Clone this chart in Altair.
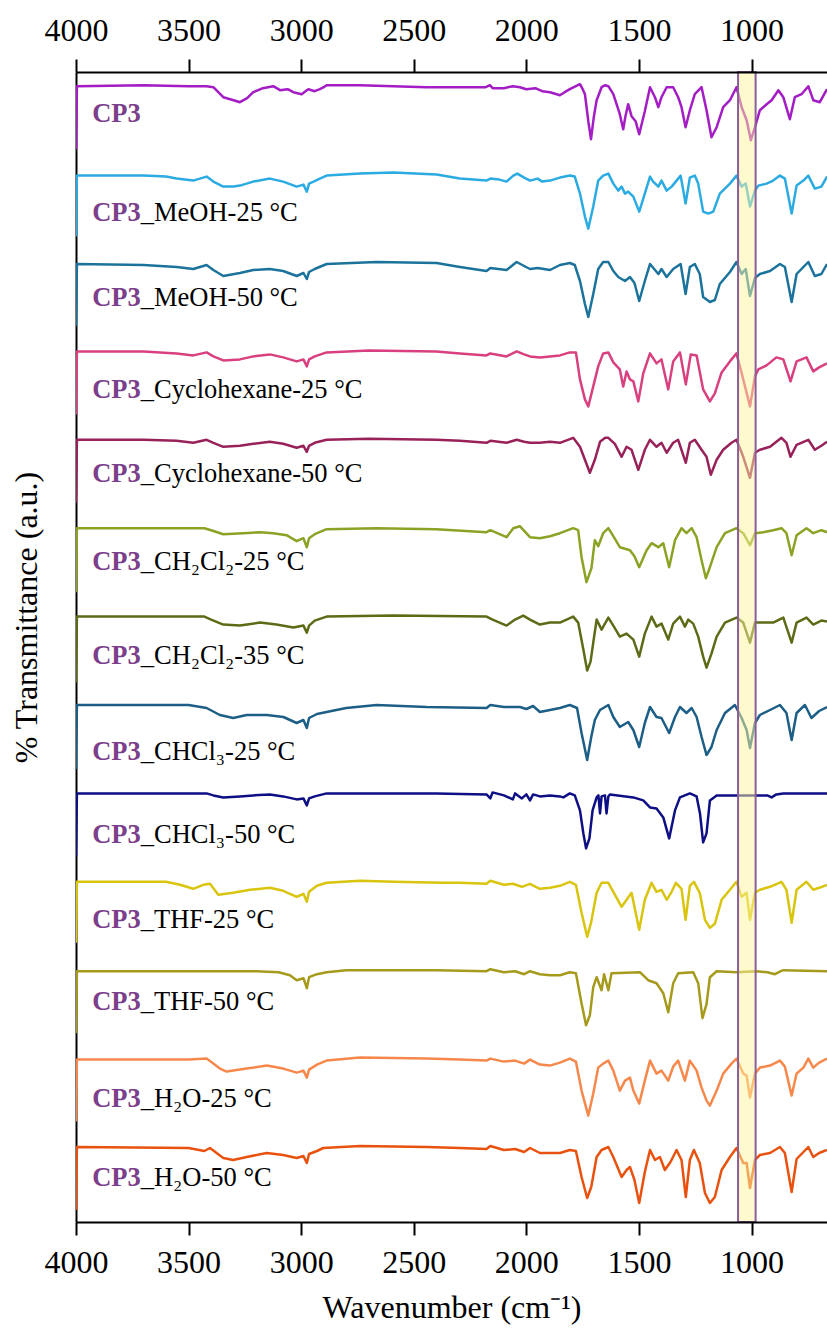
import altair as alt
import pandas as pd

# ---------------- data (wavenumber, relative transmittance) ----------------
NAMES = ["CP3", "MeOH-25", "MeOH-50", "Cyclohexane-25", "Cyclohexane-50",
         "CH2Cl2-25", "CH2Cl2-35", "CHCl3-25", "CHCl3-50", "THF-25", "THF-50",
         "H2O-25", "H2O-50"]
SUFFIX = ["", "_MeOH-25 °C", "_MeOH-50 °C", "_Cyclohexane-25 °C", "_Cyclohexane-50 °C",
          "_CH₂Cl₂-25 °C", "_CH₂Cl₂-35 °C", "_CHCl₃-25 °C", "_CHCl₃-50 °C",
          "_THF-25 °C", "_THF-50 °C", "_H₂O-25 °C", "_H₂O-50 °C"]
COLORS = ["#A31CC4", "#2BABE2", "#1B739B", "#D9407F", "#99215A", "#8BA325", "#5B6B16",
          "#1D5E86", "#0E0E85", "#D9C40E", "#A69A1C", "#F7884C", "#E9520E"]
LABEL_OFFSET = [36, 46, 43, 47, 42, 42, 47, 55, 50, 46, 40, 48, 39]
SPACING = 88.4
TICKS = [4000, 3500, 3000, 2500, 2000, 1500, 1000]
BAND = [1060, 982]

cp3 = [(4000,-63),(3996,0),(3700,1),(3500,0),(3420,0),(3390,-1),(3346,-11),(3300,-14),(3272,-16),(3240,-12),(3213,-6),(3170,-2),(3124,0),(3094,-4),(3060,-3),(3035,-6),(2998,-8),(2975,-4),(2968,-3),(2940,-5),(2917,-3),(2900,-1),(2887,1),(2739,1),(2591,0),(2443,-1),(2295,-1),(2180,-1),(2162,1),(2150,-2),(2100,-2),(2060,0),(2029,-1),(2000,-3),(1960,-2),(1930,-5),(1895,-6),(1851,-9),(1830,-6),(1807,-3),(1780,0),(1762,2),(1750,-3),(1740,-8),(1725,-35),(1713,-53),(1700,-30),(1688,-14),(1666,-1),(1650,1),(1636,0),(1614,-8),(1585,-28),(1570,-43),(1560,-30),(1548,-18),(1533,-30),(1515,-35),(1499,-48),(1474,-25),(1451,-1),(1429,-11),(1414,-21),(1400,-11),(1377,-1),(1348,-1),(1326,-11),(1311,-21),(1293,-41),(1274,-24),(1252,-8),(1222,-1),(1200,-24),(1178,-51),(1155,-41),(1126,-21),(1096,-14),(1067,-1),(1044,-21),(1022,-34),(1003,-54),(985,-41),(963,-24),(933,-18),(911,-14),(881,-4),(859,-11),(830,-33),(808,-11),(778,-8),(748,0),(726,-14),(697,-16),(665,-3)]
meoh25 = [(4000,-62),(3996,-1),(3700,-1),(3600,-2),(3553,-4),(3479,-6),(3420,-2),(3390,-7),(3346,-12),(3300,-12),(3272,-11),(3213,-7),(3139,-4),(3080,-7),(3020,-12),(2990,-10),(2975,-17),(2965,-9),(2945,-7),(2917,-4),(2887,-1),(2739,1),(2591,2),(2399,0),(2295,-4),(2177,-6),(2160,-4),(2120,-5),(2088,-7),(2058,-1),(2040,1),(2010,-3),(1984,-6),(1950,-4),(1930,-7),(1895,-6),(1851,-3),(1807,-1),(1785,-2),(1762,-19),(1740,-42),(1725,-54),(1703,-32),(1681,-6),(1659,-1),(1636,1),(1614,-9),(1592,-16),(1577,-12),(1562,-19),(1548,-17),(1525,-22),(1499,-37),(1474,-19),(1451,-2),(1437,-7),(1414,-12),(1400,-6),(1377,-16),(1355,-12),(1333,-6),(1315,-1),(1293,-29),(1274,-3),(1252,-1),(1237,-9),(1215,-37),(1192,-39),(1170,-37),(1141,-19),(1096,-9),(1067,-1),(1044,-12),(1026,-9),(1007,-32),(985,-16),(970,-11),(933,-9),(904,-6),(874,-1),(852,-4),(822,-39),(800,-11),(770,-6),(748,-1),(719,-14),(690,-12),(665,-2)]
meoh50 = [(4000,-63),(3996,-1),(3700,-2),(3553,-4),(3479,-6),(3420,-2),(3390,-7),(3346,-13),(3272,-10),(3213,-7),(3139,-6),(3080,-8),(3020,-13),(2990,-10),(2975,-16),(2965,-9),(2940,-6),(2887,-1),(2665,1),(2399,0),(2295,-4),(2177,-8),(2160,-5),(2088,-7),(2043,1),(2010,-3),(1984,-6),(1950,-5),(1895,-7),(1851,-2),(1807,0),(1785,-2),(1762,-18),(1740,-41),(1725,-54),(1703,-31),(1681,-6),(1659,1),(1636,1),(1614,-8),(1592,-14),(1562,-18),(1540,-14),(1520,-20),(1499,-38),(1474,-18),(1451,-1),(1414,-11),(1400,-6),(1377,-14),(1348,-6),(1315,-1),(1293,-31),(1274,-4),(1252,-1),(1230,-11),(1215,-34),(1185,-39),(1163,-37),(1141,-21),(1096,-9),(1067,1),(1044,-11),(1026,-6),(1007,-33),(985,-15),(963,-11),(918,-8),(874,-1),(852,-4),(822,-39),(800,-11),(748,1),(719,-13),(690,-11),(665,-1)]
cyclo25 = [(4000,-63),(3996,0),(3700,0),(3553,-2),(3479,-4),(3420,-1),(3390,-5),(3346,-9),(3272,-8),(3213,-5),(3139,-3),(3080,-6),(3020,-10),(2990,-8),(2975,-15),(2965,-8),(2940,-5),(2887,-1),(2700,1),(2400,0),(2295,-2),(2177,-4),(2160,-2),(2088,-5),(2043,0),(2010,-3),(1984,-5),(1940,-6),(1895,-5),(1851,-4),(1807,-1),(1780,-1),(1762,-28),(1740,-48),(1725,-55),(1703,-35),(1681,-15),(1659,-2),(1636,-1),(1614,-11),(1585,-18),(1570,-35),(1555,-20),(1540,-28),(1525,-30),(1503,-50),(1481,-22),(1451,-2),(1422,-12),(1400,-8),(1370,-38),(1348,-10),(1318,-1),(1292,-33),(1270,-3),(1244,-4),(1215,-38),(1185,-50),(1163,-42),(1133,-21),(1096,-10),(1067,-2),(1037,-28),(1007,-55),(985,-25),(970,-18),(933,-14),(890,-6),(859,-8),(827,-30),(800,-10),(756,-6),(726,-20),(700,-16),(665,-12)]
cyclo50 = [(4000,-63),(3996,0),(3700,0),(3553,-1),(3479,-3),(3420,0),(3390,-3),(3346,-7),(3272,-6),(3213,-4),(3139,-2),(3080,-4),(3020,-8),(2990,-6),(2975,-12),(2965,-6),(2940,-3),(2887,0),(2700,1),(2400,0),(2295,-1),(2177,-3),(2160,-1),(2088,-3),(2043,0),(2010,-2),(1984,-3),(1940,-3),(1895,-2),(1851,-3),(1792,2),(1762,-7),(1740,-20),(1718,-33),(1696,-20),(1673,-2),(1650,2),(1636,2),(1607,-4),(1577,-17),(1555,-7),(1533,-10),(1503,-30),(1474,-10),(1451,0),(1422,-7),(1400,-3),(1377,-13),(1348,-3),(1326,0),(1292,-23),(1274,-3),(1252,0),(1222,-10),(1200,-17),(1181,-35),(1155,-20),(1126,-10),(1089,-3),(1067,0),(1037,-17),(1007,-38),(985,-13),(963,-10),(918,-7),(867,2),(845,-3),(827,-17),(800,-5),(748,0),(719,-10),(690,-6),(665,-2)]
dcm25 = [(4000,-64),(3996,0),(3500,0),(3430,0),(3400,-2),(3346,-6),(3257,-5),(3183,-4),(3124,-5),(3065,-7),(3020,-13),(2990,-10),(2975,-19),(2965,-10),(2940,-6),(2887,-1),(2665,0),(2400,-1),(2177,-4),(2160,-2),(2088,-9),(2058,0),(2029,2),(1984,-9),(1940,-10),(1895,-8),(1851,-5),(1792,0),(1770,-2),(1755,-29),(1733,-54),(1711,-40),(1696,-12),(1681,-18),(1659,-5),(1636,0),(1614,-8),(1585,-19),(1540,-22),(1520,-28),(1499,-39),(1466,-22),(1444,-15),(1414,-19),(1392,-15),(1366,-39),(1340,-12),(1311,0),(1289,-5),(1266,0),(1244,-9),(1222,-32),(1203,-50),(1185,-39),(1155,-19),(1118,-5),(1067,0),(1037,-5),(1007,-17),(985,-5),(948,-4),(904,-2),(867,0),(845,-5),(822,-27),(800,-7),(756,0),(726,-5),(690,-2),(665,-4)]
dcm35 = [(4000,-66),(3996,0),(3500,0),(3430,0),(3400,-3),(3346,-8),(3272,-9),(3183,-6),(3110,-8),(3035,-11),(2990,-9),(2975,-16),(2965,-9),(2940,-4),(2887,0),(2591,1),(2177,0),(2150,-3),(2088,-9),(2050,-3),(2014,1),(1984,-3),(1940,-8),(1895,-6),(1851,-6),(1792,0),(1770,-6),(1747,-33),(1730,-54),(1715,-45),(1703,-26),(1688,-3),(1666,-13),(1636,-1),(1614,-9),(1585,-20),(1555,-17),(1525,-23),(1499,-40),(1474,-17),(1444,0),(1422,-10),(1400,-7),(1370,-23),(1348,-7),(1318,0),(1296,-10),(1281,-3),(1259,-7),(1237,-20),(1215,-40),(1200,-51),(1178,-37),(1155,-20),(1118,-6),(1067,-1),(1037,-6),(1007,-26),(985,-6),(948,-6),(904,-6),(859,-1),(822,-26),(800,-6),(756,-1),(726,-8),(690,-4),(665,-5)]
chcl25 = [(4000,-64),(3996,0),(3500,0),(3420,-3),(3361,-10),(3302,-13),(3242,-10),(3153,-10),(3079,-12),(3020,-18),(2990,-15),(2975,-23),(2965,-13),(2930,-9),(2887,-7),(2800,-3),(2665,0),(2443,-2),(2177,-3),(2160,0),(2100,-2),(2029,-2),(2000,-4),(1970,-1),(1940,-7),(1895,-5),(1851,-3),(1807,0),(1775,-3),(1755,-28),(1730,-55),(1712,-32),(1696,-15),(1673,-5),(1636,0),(1614,-12),(1585,-22),(1548,-17),(1525,-25),(1499,-42),(1474,-18),(1451,-2),(1422,-12),(1400,-13),(1366,-28),(1340,-12),(1318,-2),(1289,-8),(1266,-3),(1244,-12),(1222,-32),(1200,-50),(1178,-42),(1155,-25),(1118,-8),(1074,0),(1044,-13),(1022,-25),(1007,-43),(985,-18),(963,-10),(918,-5),(874,0),(845,-8),(822,-35),(800,-8),(763,0),(734,-13),(700,-6),(665,-2)]
chcl50 = [(4000,-63),(3996,0),(3500,0),(3420,0),(3390,-2),(3346,-4),(3272,-3),(3213,-2),(3139,-1),(3080,-3),(3020,-6),(2990,-5),(2975,-12),(2965,-5),(2940,-3),(2887,0),(2665,0),(2400,0),(2177,-1),(2160,-5),(2150,1),(2100,-2),(2060,-6),(2050,0),(2020,-5),(2000,-1),(1984,-7),(1970,-1),(1940,-3),(1895,-2),(1851,-3),(1836,-4),(1807,0),(1785,-2),(1762,-17),(1747,-40),(1735,-55),(1720,-45),(1706,-17),(1688,-4),(1680,-2),(1673,-20),(1666,-3),(1651,-2),(1644,-20),(1636,-3),(1629,-1),(1525,-4),(1481,-7),(1451,-14),(1422,-15),(1392,-24),(1366,-45),(1340,-17),(1318,-4),(1274,0),(1244,-3),(1229,-20),(1215,-49),(1200,-40),(1185,-7),(1155,-2),(1067,-2),(978,-2),(930,-2),(911,-4),(890,-1),(859,0),(665,0)]
thf25 = [(4000,-61),(3996,0),(3600,0),(3538,-3),(3479,-7),(3435,-3),(3405,-2),(3368,-13),(3302,-11),(3227,-8),(3139,-6),(3080,-9),(3020,-15),(2990,-12),(2975,-20),(2965,-10),(2930,-4),(2887,-1),(2739,1),(2591,0),(2369,-1),(2295,-1),(2177,-2),(2160,1),(2100,-3),(2060,-2),(2020,-5),(1984,-2),(1940,-7),(1895,-6),(1851,-4),(1807,0),(1780,-3),(1755,-31),(1730,-55),(1712,-40),(1688,-11),(1666,-1),(1636,-1),(1614,-10),(1577,-25),(1555,-18),(1533,-11),(1499,-48),(1474,-18),(1444,-1),(1422,-10),(1400,-8),(1377,-18),(1355,-10),(1336,-1),(1311,-7),(1293,-38),(1274,-4),(1256,0),(1230,-11),(1207,-38),(1185,-46),(1163,-42),(1133,-18),(1096,-8),(1067,0),(1044,-15),(1022,-11),(1007,-38),(985,-11),(963,-8),(918,-5),(867,0),(845,-8),(822,-41),(800,-8),(756,0),(726,-8),(700,-6),(665,-3)]
thf50 = [(4000,-63),(3996,-1),(3500,-1),(3200,-1),(3100,-2),(3050,-5),(3020,-10),(2990,-8),(2975,-18),(2965,-7),(2930,-4),(2887,-2),(2800,0),(2400,0),(2177,-1),(2160,1),(2100,-2),(2050,-1),(2010,-4),(1984,-1),(1940,-4),(1895,-5),(1851,-5),(1807,-2),(1780,-3),(1755,-33),(1735,-55),(1718,-45),(1703,-17),(1688,-7),(1666,-20),(1655,-4),(1636,-20),(1622,-3),(1496,-2),(1459,-10),(1422,-13),(1392,-23),(1370,-42),(1348,-13),(1326,-3),(1259,-2),(1237,-13),(1218,-48),(1200,-34),(1185,-7),(1155,-1),(1067,-2),(978,-1),(930,-2),(896,-4),(870,-1),(859,0),(665,-1)]
h2o25 = [(4000,-63),(3996,-1),(3500,-1),(3420,0),(3390,-5),(3361,-10),(3331,-13),(3242,-10),(3153,-7),(3080,-10),(3020,-14),(2990,-12),(2975,-19),(2965,-11),(2930,-6),(2887,-2),(2739,1),(2443,0),(2295,-1),(2177,-2),(2160,0),(2100,-3),(2050,-2),(2010,-5),(1984,-1),(1940,-6),(1895,-7),(1851,-4),(1807,0),(1780,-3),(1755,-32),(1725,-57),(1703,-35),(1681,-9),(1659,-5),(1636,-2),(1614,-12),(1585,-32),(1562,-22),(1540,-19),(1525,-32),(1499,-45),(1474,-22),(1451,-2),(1422,-15),(1400,-12),(1370,-22),(1348,-8),(1326,-2),(1296,-22),(1274,-2),(1244,-12),(1222,-29),(1200,-42),(1185,-47),(1155,-32),(1126,-15),(1089,-5),(1067,0),(1037,-15),(1022,-17),(1007,-39),(985,-15),(963,-9),(918,-7),(874,-2),(852,-8),(822,-37),(800,-15),(770,-9),(748,0),(726,-9),(700,-4),(665,0)]
h2o50 = [(4000,-63),(3996,0),(3500,-1),(3430,-4),(3405,-1),(3346,-11),(3302,-13),(3242,-10),(3153,-6),(3080,-8),(3020,-11),(2990,-9),(2975,-16),(2965,-7),(2930,-4),(2902,-1),(2739,1),(2443,0),(2295,-1),(2177,-2),(2160,1),(2100,-3),(2050,-2),(2010,-5),(1984,-1),(1940,-6),(1895,-6),(1851,-6),(1807,-3),(1780,-4),(1755,-30),(1730,-51),(1712,-40),(1688,-10),(1666,-3),(1636,0),(1614,-10),(1577,-30),(1555,-23),(1540,-20),(1520,-33),(1499,-56),(1474,-25),(1451,-3),(1429,-13),(1407,-10),(1385,-23),(1360,-15),(1333,-3),(1311,-13),(1292,-50),(1274,-13),(1256,-3),(1230,-16),(1207,-46),(1185,-56),(1163,-50),(1133,-23),(1096,-10),(1067,-1),(1037,-16),(1022,-16),(1007,-41),(985,-13),(963,-8),(918,-6),(874,0),(852,-6),(822,-45),(800,-12),(748,0),(726,-10),(700,-6),(665,-3)]

SERIES = [cp3, meoh25, meoh50, cyclo25, cyclo50, dcm25, dcm35, chcl25, chcl50, thf25, thf50, h2o25, h2o50]

# ---------------- build tables ----------------
rows = []
labels = []
for i, (name, pts) in enumerate(zip(NAMES, SERIES)):
    base = (12 - i) * SPACING
    for k, (w, t) in enumerate(pts):
        rows.append({"series": name, "wn": w, "y": base + t, "idx": k})
    labels.append({"series": name, "wn": 3928, "y": base - LABEL_OFFSET[i],
                   "head": "CP3", "tail": SUFFIX[i]})
df = pd.DataFrame(rows)
lab = pd.DataFrame(labels)
band = pd.DataFrame({"x1": [BAND[0]], "x2": [BAND[1]]})

FONT = "Liberation Serif"
W, H = 751, 1150
xscale = alt.Scale(domain=[4000, 665], nice=False, zero=False)
yscale = alt.Scale(domain=[-75, 1075], nice=False, zero=False)

axis_common = dict(values=TICKS, format="d", grid=False, tickSize=13, tickWidth=2,
                   tickColor="black", domainColor="black", domainWidth=2,
                   labelFont=FONT, labelFontSize=32, labelColor="black",
                   labelPadding=12, labelFlush=False, zindex=1)

lines = alt.Chart(df).mark_line(strokeWidth=2.5, strokeJoin="round", clip=True).encode(
    x=alt.X("wn:Q", scale=xscale,
            axis=alt.Axis(orient="bottom", title="Wavenumber (cm⁻¹)", titleFont=FONT,
                          titleFontSize=32, titleFontWeight="normal", titleColor="black",
                          titleY=95, titleBaseline="alphabetic", **axis_common)),
    y=alt.Y("y:Q", scale=yscale,
            axis=alt.Axis(orient="left", title="% Transmittance (a.u.)", ticks=False,
                          labels=False, grid=False, domainColor="black", domainWidth=2,
                          titleFont=FONT, titleFontSize=32, titleFontWeight="normal",
                          titleColor="black", titleAngle=270, titleX=-40, titleY=545,
                          titleAlign="center", titleBaseline="alphabetic")),
    color=alt.Color("series:N", scale=alt.Scale(domain=NAMES, range=COLORS), legend=None),
    order=alt.Order("idx:Q"),
    detail="series:N",
)

band_layer = alt.Chart(band).mark_rect(fill="#FFF59D", fillOpacity=0.5,
                                       stroke="#8B5E9B", strokeWidth=2).encode(
    x=alt.X("x1:Q", scale=xscale, axis=alt.Axis(orient="top", title=None, **axis_common)),
    x2="x2:Q",
    y=alt.value(0),
    y2=alt.value(H),
)

head = alt.Chart(lab).mark_text(font=FONT, fontSize=26.5, fontWeight="bold", color="#7B3F8C",
                                align="left", baseline="alphabetic").encode(
    x=alt.X("wn:Q", scale=xscale, axis=None),
    y=alt.Y("y:Q", scale=yscale, axis=None),
    text="head:N",
)
tail = alt.Chart(lab).mark_text(font=FONT, fontSize=26.5, color="black", align="left",
                                baseline="alphabetic", dx=48.5).encode(
    x=alt.X("wn:Q", scale=xscale, axis=None),
    y=alt.Y("y:Q", scale=yscale, axis=None),
    text="tail:N",
)

chart = alt.layer(lines, band_layer, head, tail).resolve_axis(
    x="independent", y="independent"
).properties(
    width=W, height=H,
    autosize=alt.AutoSizeParams(type="none"),
    padding={"left": 76, "top": 72, "right": 0, "bottom": 107},
).configure_view(stroke=None).configure(background="white")

chart.save("out.html", embed_options={"renderer": "svg", "actions": False})
